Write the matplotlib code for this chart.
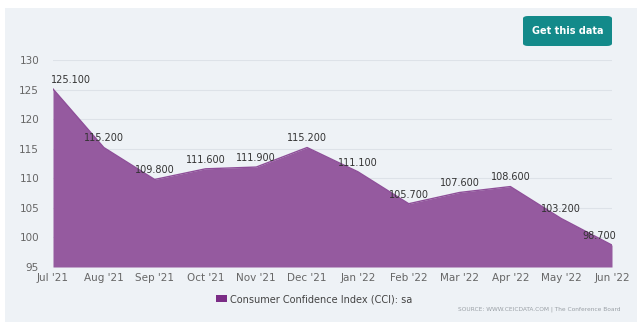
import matplotlib.pyplot as plt
from matplotlib.patches import FancyBboxPatch, Rectangle

# data
months = ["Jul '21", "Aug '21", "Sep '21", "Oct '21", "Nov '21", "Dec '21",
          "Jan '22", "Feb '22", "Mar '22", "Apr '22", "May '22", "Jun '22"]
cci = [125.1, 115.2, 109.8, 111.6, 111.9, 115.2,
       111.1, 105.7, 107.6, 108.6, 103.2, 98.7]
yticks = [95, 100, 105, 110, 115, 120, 125, 130]

BG = '#eef2f6'
FILL = '#955a9f'
TXT = '#666666'

fig = plt.figure(figsize=(6.37, 3.22), dpi=100, facecolor='white')
fig.patches.append(Rectangle((5 / 637, 0), 1, 1 - 8 / 322, transform=fig.transFigure,
                             facecolor=BG, edgecolor='none', zorder=-5))

ax = fig.add_axes([53 / 637, 1 - 267 / 322, (612 - 53) / 637, (267 - 60) / 322])
ax.set_facecolor('none')

x = list(range(len(months)))
ax.fill_between(x, 95, cci, color=FILL, linewidth=0, zorder=2)
ax.plot(x, cci, color='#8e4f99', linewidth=1, zorder=3)

# value labels, the end ones pushed inside the plot like the original
for i, (xi, v) in enumerate(zip(x, cci)):
    dx = 13 if i == 0 else (-9 if i == len(x) - 1 else 0)
    ax.annotate(f"{v:.3f}", (xi, v), xytext=(dx, 3), textcoords='offset points',
                ha='center', va='bottom', fontsize=7, color='#333333', zorder=4)

ax.set_xlim(0, len(months) - 1)
ax.set_ylim(95, 130)
ax.set_yticks(yticks)
ax.set_xticks(x)
ax.set_xticklabels(months)
ax.tick_params(axis='both', length=0, labelsize=7.5, colors=TXT)
ax.tick_params(axis='y', pad=10)
ax.tick_params(axis='x', pad=4)
ax.grid(axis='y', color='#dde2e8', linestyle='-', linewidth=0.8, zorder=1)
for s in ax.spines.values():
    s.set_visible(False)

# legend
fig.patches.append(Rectangle((216 / 637, 1 - 302 / 322), 11 / 637, 7 / 322,
                             transform=fig.transFigure, facecolor='#7b2d86',
                             edgecolor='none'))
fig.text(230 / 637, 1 - 299 / 322, "Consumer Confidence Index (CCI): sa",
         fontsize=7, color='#444444', va='center')
fig.text(620 / 637, 1 - 309 / 322,
         "SOURCE: WWW.CEICDATA.COM | The Conference Board",
         fontsize=4.2, color='#9aa0a6', ha='right', va='center')

# button
fig.patches.append(FancyBboxPatch((523 / 637, 1 - 46 / 322), 89 / 637, 30 / 322,
                                  boxstyle='round,pad=0,rounding_size=0.008',
                                  transform=fig.transFigure, facecolor='#138a8a',
                                  edgecolor='none'))
fig.text(567.5 / 637, 1 - 31 / 322, "Get this data", fontsize=7, color='white',
         ha='center', va='center', fontweight='bold')

fig.savefig('out.png', dpi=100, facecolor='white')
